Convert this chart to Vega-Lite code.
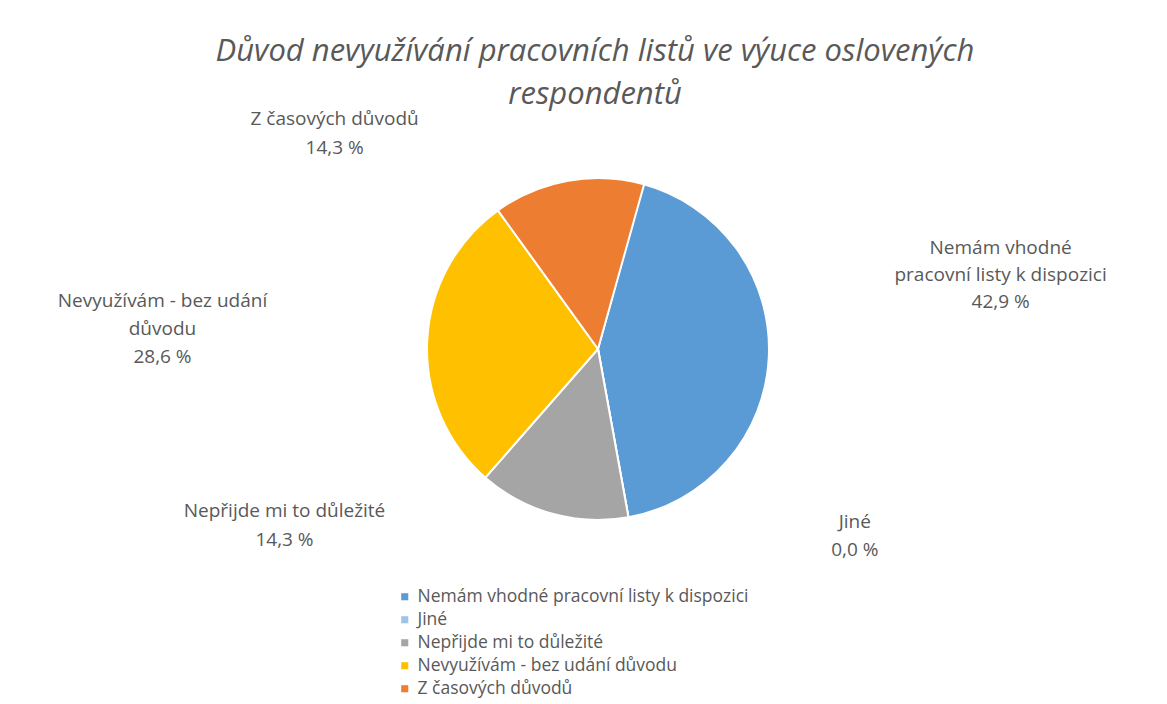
{
  "$schema": "https://vega.github.io/schema/vega-lite/v6.json",
  "width": 996,
  "height": 458,
  "padding": {"left": 100, "top": 120, "right": 71, "bottom": 126},
  "autosize": {"type": "none"},
  "background": "white",
  "config": {"view": {"stroke": null}},
  "title": {
    "text": ["Důvod nevyužívání pracovních listů ve výuce oslovených", "respondentů"],
    "font": "Open Sans",
    "fontSize": 31,
    "fontStyle": "italic",
    "fontWeight": "normal",
    "color": "#595959",
    "anchor": "middle",
    "lineHeight": 43,
    "offset": -1,
    "dx": -3
  },
  "data": {
    "values": [
      {"poradi": 1, "duvod": "Nemám vhodné pracovní listy k dispozici", "popisek": "Nemám vhodné|pracovní listy k dispozici", "podil": 42.9},
      {"poradi": 2, "duvod": "Jiné", "popisek": "Jiné", "podil": 0.0},
      {"poradi": 3, "duvod": "Nepřijde mi to důležité", "popisek": "Nepřijde mi to důležité", "podil": 14.3},
      {"poradi": 4, "duvod": "Nevyužívám - bez udání důvodu", "popisek": "Nevyužívám - bez udání|důvodu", "podil": 28.6},
      {"poradi": 5, "duvod": "Z časových důvodů", "popisek": "Z časových důvodů", "podil": 14.3}
    ]
  },
  "transform": [
    {"stack": "podil", "groupby": [], "sort": [{"field": "poradi", "order": "ascending"}], "as": ["zacatek", "konec"]},
    {"calculate": "(datum.zacatek + datum.konec) / 2", "as": "stred"},
    {"calculate": "datum.popisek + '|' + replace(format(datum.podil, '.1f'), '.', ',') + ' %'", "as": "stitek"}
  ],
  "layer": [
    {
      "mark": {"type": "arc", "outerRadius": 171, "stroke": "white", "strokeWidth": 2},
      "encoding": {
        "theta": {"field": "zacatek", "type": "quantitative", "stack": null, "scale": {"domain": [0, 100], "range": [0.267, 6.550]}},
        "theta2": {"field": "konec"},
        "color": {
          "field": "duvod",
          "type": "nominal",
          "scale": {
            "domain": ["Nemám vhodné pracovní listy k dispozici", "Jiné", "Nepřijde mi to důležité", "Nevyužívám - bez udání důvodu", "Z časových důvodů"],
            "range": ["#5B9BD5", "#9DC3E6", "#A5A5A5", "#FFC000", "#ED7D31"]
          },
          "legend": {
            "title": null,
            "orient": "none",
            "legendX": 296,
            "legendY": 468,
            "direction": "vertical",
            "symbolType": "square",
            "symbolSize": 50,
            "symbolStrokeWidth": 0,
            "labelFont": "Open Sans",
            "labelFontSize": 17.5,
            "labelColor": "#595959",
            "labelOffset": 4,
            "rowPadding": 4,
            "labelLimit": 600
          }
        }
      }
    },
    {
      "transform": [{"filter": "datum.poradi == 1"}],
      "mark": {"type": "text", "radius": 403, "dx": 0, "dy": -119, "font": "Open Sans", "fontSize": 19, "color": "#595959", "lineBreak": "|", "lineHeight": 27, "align": "center", "baseline": "middle"},
      "encoding": {"theta": {"field": "stred", "type": "quantitative", "stack": null}, "text": {"field": "stitek"}}
    },
    {
      "transform": [{"filter": "datum.poradi == 2"}],
      "mark": {"type": "text", "radius": 229, "dx": 216, "dy": -52, "font": "Open Sans", "fontSize": 19, "color": "#595959", "lineBreak": "|", "lineHeight": 28, "align": "center", "baseline": "middle"},
      "encoding": {"theta": {"field": "stred", "type": "quantitative", "stack": null}, "text": {"field": "stitek"}}
    },
    {
      "transform": [{"filter": "datum.poradi == 3"}],
      "mark": {"type": "text", "radius": 253, "dx": -246, "dy": -82, "font": "Open Sans", "fontSize": 19, "color": "#595959", "lineBreak": "|", "lineHeight": 29, "align": "center", "baseline": "middle"},
      "encoding": {"theta": {"field": "stred", "type": "quantitative", "stack": null}, "text": {"field": "stitek"}}
    },
    {
      "transform": [{"filter": "datum.poradi == 4"}],
      "mark": {"type": "text", "radius": 436, "dx": 0, "dy": -28, "font": "Open Sans", "fontSize": 19, "color": "#595959", "lineBreak": "|", "lineHeight": 28, "align": "center", "baseline": "middle"},
      "encoding": {"theta": {"field": "stred", "type": "quantitative", "stack": null}, "text": {"field": "stitek"}}
    },
    {
      "transform": [{"filter": "datum.poradi == 5"}],
      "mark": {"type": "text", "radius": 259, "dx": -218, "dy": 25, "font": "Open Sans", "fontSize": 19, "color": "#595959", "lineBreak": "|", "lineHeight": 29, "align": "center", "baseline": "middle"},
      "encoding": {"theta": {"field": "stred", "type": "quantitative", "stack": null}, "text": {"field": "stitek"}}
    }
  ]
}
